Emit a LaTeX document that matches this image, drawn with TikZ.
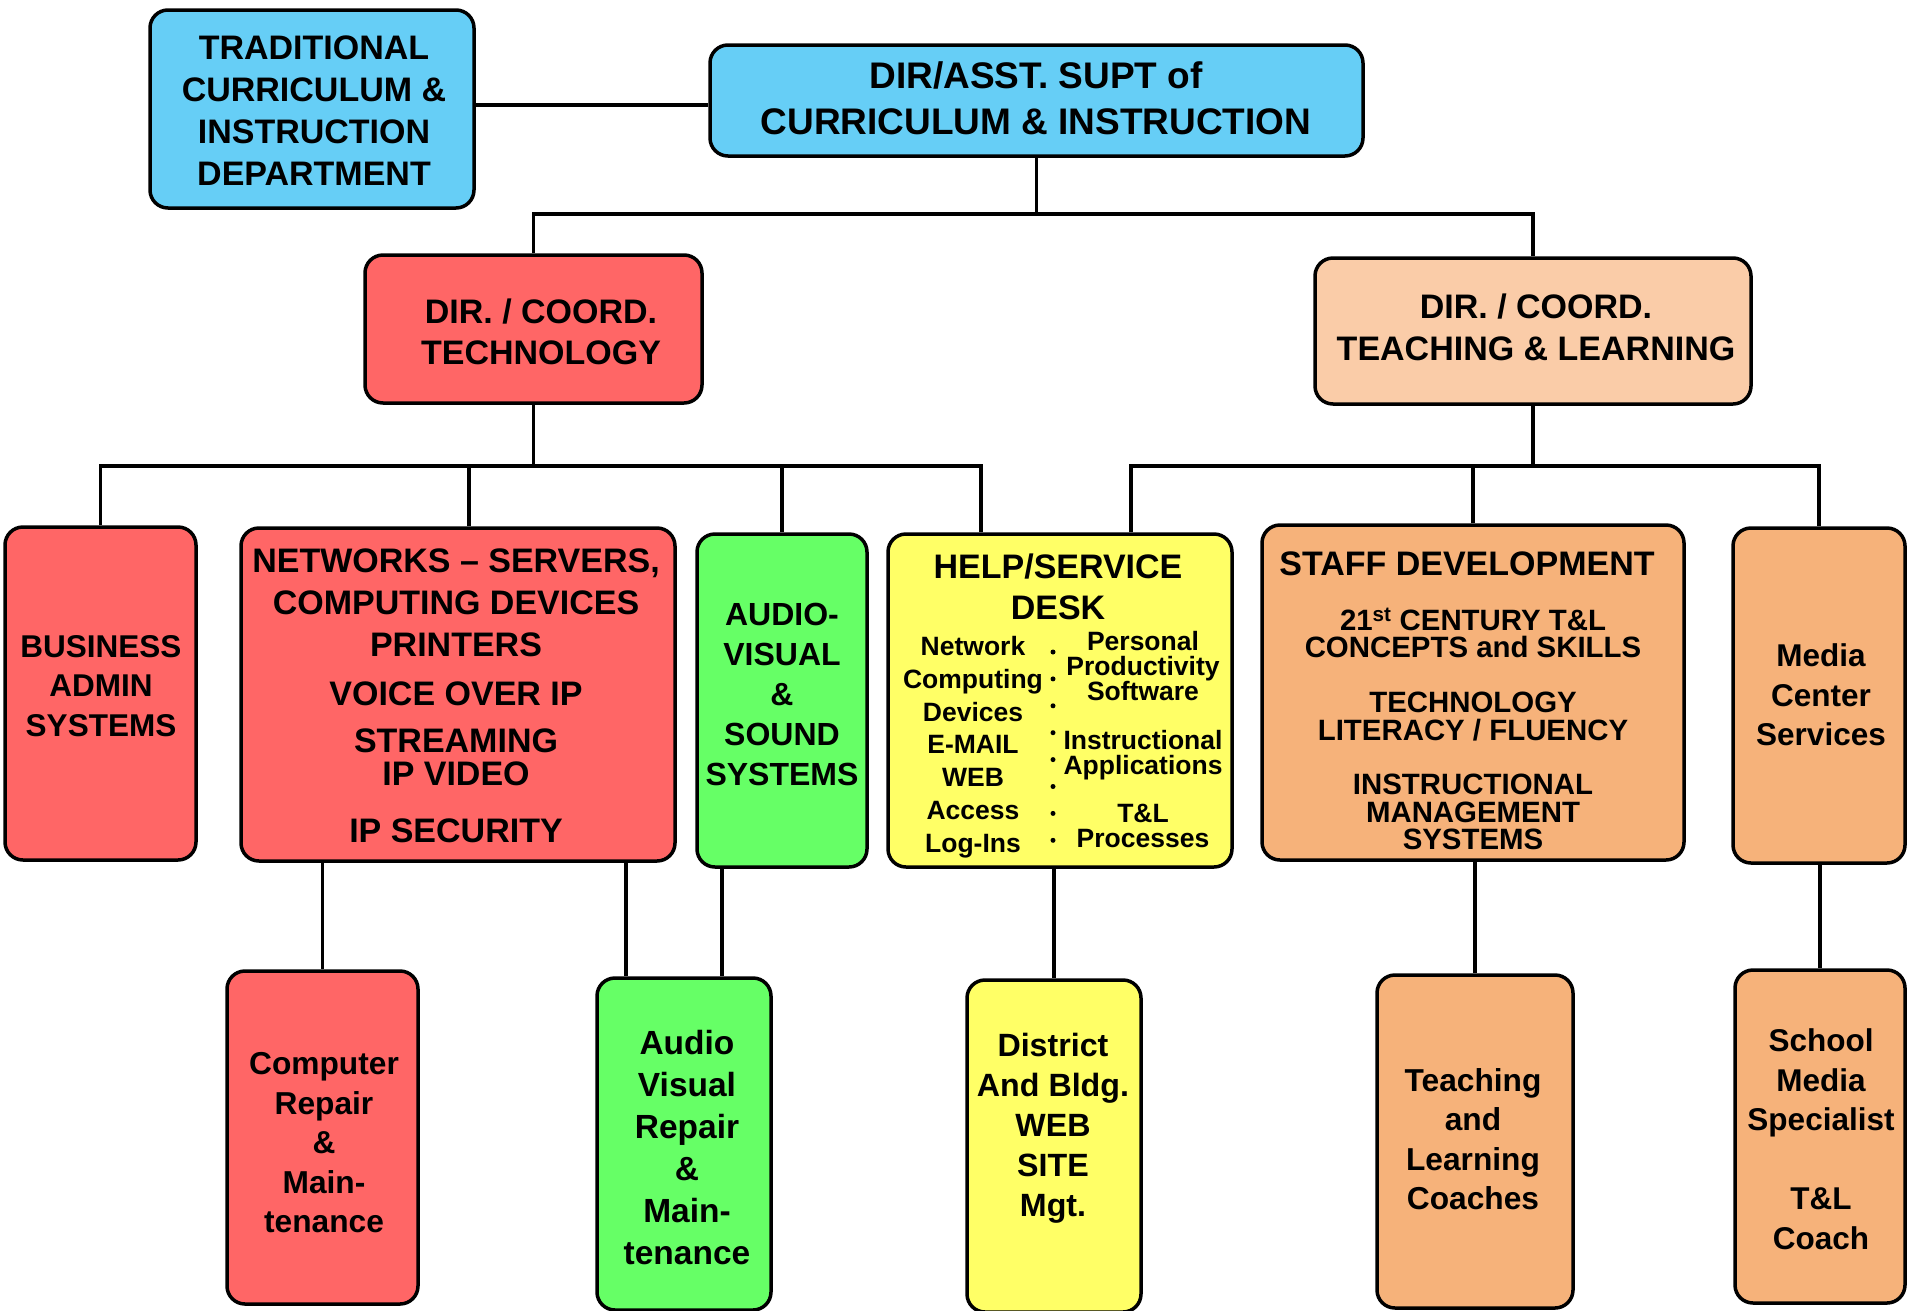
\documentclass[tikz,border=0pt]{standalone}
\usepackage{fontspec}
\setmainfont{Liberation Sans}
\definecolor{cBlue}{RGB}{102,206,246}
\definecolor{cRed}{RGB}{255,102,102}
\definecolor{cGreen}{RGB}{102,255,102}
\definecolor{cYellow}{RGB}{255,255,102}
\definecolor{cPeach}{RGB}{250,204,168}
\definecolor{cOrange}{RGB}{246,178,122}
\newcommand\tsz[2]{\fontsize{#1}{#2}\selectfont}
\tikzset{
  box/.style={draw=black, line width=3.5pt, rounded corners=18pt, inner sep=0pt},
  bx/.style 2 args={box, minimum width=#1 pt, minimum height=#2 pt},
  txt/.style={align=center, inner sep=0pt, font=\bfseries},
  link/.style={draw=black, line width=3.3pt},
  dotm/.style={circle, fill=black, inner sep=0pt, minimum size=5pt}
}
\begin{document}
\begin{tikzpicture}[x=1pt, y=-1pt]
\path[use as bounding box] (0,0) rectangle (1907,1310);
\clip (0,0) rectangle (1907,1310);
\fill[white] (0,0) rectangle (1907,1310);

% helper coordinates for bus lines and off-centre drops
\coordinate (j0) at (0,105);
\coordinate (b1) at (0,214);
\coordinate (b2) at (0,466);
\coordinate (xnet) at (469,0);
\coordinate (xhelpA) at (981,0);
\coordinate (xhelpB) at (1131,0);
\coordinate (xnetB) at (626,0);
\coordinate (xav) at (722,0);

% ---------- top level
\node[bx={324}{198}, fill=cBlue] (trad) at (312,109) {};
\node[bx={653}{111}, fill=cBlue] (top) at (1036.5,100.5) {};
\node[bx={337}{148}, fill=cRed] (tech) at (533.5,329) {};
\node[bx={436}{146}, fill=cPeach] (tl) at (1533,331) {};

% ---------- second level
\node[bx={191}{333}, fill=cRed] (busi) at (100.5,693.5) {};
\node[bx={434}{333}, fill=cRed] (net) at (458,694.5) {};
\node[bx={170}{333}, fill=cGreen] (av) at (782,700.5) {};
\node[bx={344}{333}, fill=cYellow] (help) at (1060,700.5) {};
\node[bx={422}{335}, fill=cOrange] (staff) at (1473,692.5) {};
\node[bx={172}{335}, fill=cOrange] (media) at (1819,695.5) {};

% ---------- third level
\node[bx={191}{333}, fill=cRed] (comp) at (322.5,1137.5) {};
\node[bx={174}{332}, fill=cGreen] (avr) at (684,1144) {};
\node[bx={174}{332}, fill=cYellow] (dist) at (1054,1146) {};
\node[bx={196}{333}, fill=cOrange] (teach) at (1475,1141.5) {};
\node[bx={170}{333}, fill=cOrange] (school) at (1820,1136.5) {};

% ---------- connectors
\draw[link] (trad.east |- j0) -- (top.west |- j0);
\draw[link] (top.south) -- (top.south |- b1);
\draw[link] (tech.north) -- (tech.north |- b1) -- (tl.north |- b1) -- (tl.north);

\draw[link] (tech.south) -- (tech.south |- b2);
\draw[link] (busi.north) -- (busi.north |- b2) -- (xhelpA |- b2) -- (help.north -| xhelpA);
\draw[link] (net.north -| xnet) -- (xnet |- b2);
\draw[link] (av.north) -- (av.north |- b2);

\draw[link] (tl.south) -- (tl.south |- b2);
\draw[link] (help.north -| xhelpB) -- (xhelpB |- b2) -- (media.north |- b2) -- (media.north);
\draw[link] (staff.north) -- (staff.north |- b2);

\draw[link] (net.south -| comp.north) -- (comp.north);
\draw[link] (net.south -| xnetB) -- (avr.north -| xnetB);
\draw[link] (av.south -| xav) -- (avr.north -| xav);
\draw[link] (help.south -| dist.north) -- (dist.north);
\draw[link] (staff.south -| teach.north) -- (teach.north);
\draw[link] (media.south -| school.north) -- (school.north);

% ---------- texts
\node[txt, font=\bfseries\tsz{37}{46}] (top-t) at (1036,98.5) {DIR/ASST. SUPT of\\CURRICULUM \& INSTRUCTION};
\node[txt, font=\bfseries\tsz{34}{42}] (trad-t) at (314,111) {TRADITIONAL\\CURRICULUM \&\\INSTRUCTION\\DEPARTMENT};
\node[txt, font=\bfseries\tsz{34}{41}] (tech-t) at (541,332) {DIR. / COORD.\\TECHNOLOGY};
\node[txt, font=\bfseries\tsz{34}{42}] (tl-t) at (1536,327) {DIR. / COORD.\\TEACHING \& LEARNING};

\node[txt, font=\bfseries\tsz{31.5}{39.5}] (busi-t) at (101,686) {BUSINESS\\ADMIN\\SYSTEMS};
\node[txt, font=\bfseries\tsz{34}{33}] (net-t) at (456,696)
  {NETWORKS – SERVERS,\\[9pt]COMPUTING DEVICES\\[9pt]PRINTERS\\[16pt]VOICE OVER IP\\[14pt]STREAMING\\IP VIDEO\\[24pt]IP SECURITY};
\node[txt, font=\bfseries\tsz{32}{40}] (av-t) at (782,694) {AUDIO-\\VISUAL\\\&\\SOUND\\SYSTEMS};

\node[txt, font=\bfseries\tsz{34}{41}] (help-t) at (1058,587) {HELP/SERVICE\\DESK};
\node[txt, font=\bfseries\tsz{26.5}{32.8}] (help-l) at (973,747)
  {Network\\Computing\\Devices\\E-MAIL\\WEB\\Access\\Log-Ins};
\foreach \i in {0,...,7}
  \node[dotm] (dot\i) at (1053,652+26.9*\i) {};
\node[txt, font=\bfseries\tsz{26.5}{25}] (help-r) at (1143,739.5)
  {Personal\\Productivity\\Software\\[24pt]Instructional\\Applications\\[23pt]T\&L\\Processes};

\node[txt, font=\bfseries\tsz{34}{41}] (staff-t) at (1467,564) {STAFF DEVELOPMENT};
\node[txt, font=\bfseries\tsz{29.4}{27.5}] (staff-b) at (1473,729)
  {21\textsuperscript{st} CENTURY T\&L\\CONCEPTS and SKILLS\\[27.5pt]TECHNOLOGY\\LITERACY / FLUENCY\\[27pt]INSTRUCTIONAL\\MANAGEMENT\\SYSTEMS};
\node[txt, font=\bfseries\tsz{31.5}{39.5}] (media-t) at (1821,695) {Media\\Center\\Services};

\node[txt, font=\bfseries\tsz{31.7}{39.5}] (comp-t) at (324,1143) {Computer\\Repair\\\&\\Main-\\tenance};
\node[txt, font=\bfseries\tsz{33.5}{42}] (avr-t) at (687,1148) {Audio\\Visual\\Repair\\\&\\Main-\\tenance};
\node[txt, font=\bfseries\tsz{32.2}{40}] (dist-t) at (1053,1128.5) {District\\And Bldg.\\WEB\\SITE\\Mgt.};
\node[txt, font=\bfseries\tsz{31.7}{39.5}] (teach-t) at (1473,1139) {Teaching\\and\\Learning\\Coaches};
\node[txt, font=\bfseries\tsz{31.5}{39.5}] (school-t) at (1821,1139) {School\\Media\\Specialist\\[39.5pt]T\&L\\Coach};
\end{tikzpicture}
\end{document}
